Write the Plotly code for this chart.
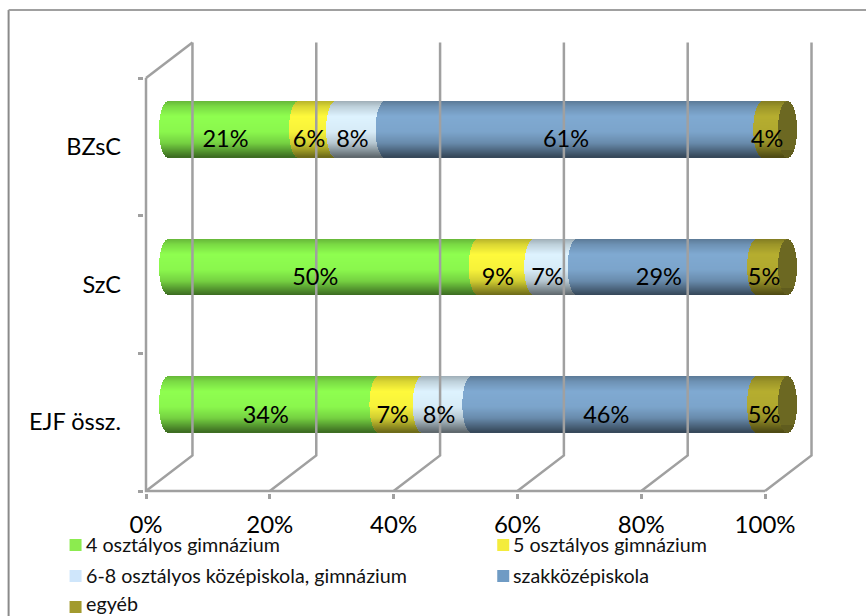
import numpy as np
import plotly.graph_objects as go

W, H = 866, 616
categories = ["EJF össz.", "SzC", "BZsC"]
series_names = ["4 osztályos gimnázium", "5 osztályos gimnázium",
                "6-8 osztályos középiskola, gimnázium", "szakközépiskola", "egyéb"]
gimn4 = [34, 50, 21]
gimn5 = [7, 9, 6]
koz68 = [8, 7, 8]
szakk = [46, 29, 61]
egyeb = [5, 5, 4]
series_values = [gimn4, gimn5, koz68, szakk, egyeb]
series_rgb = [(143, 255, 80), (255, 250, 60), (222, 243, 255), (128, 170, 210), (182, 174, 48)]
legend_rgb = ["#8CEB4F", "#F4EC3C", "#CFE6FB", "#6F9BC4", "#A29A2E"]
x_ticks = [0, 20, 40, 60, 80, 100]
x_ticktext = ["0%", "20%", "40%", "60%", "80%", "100%"]

# front-plane pixels
L, R, T, B = 145.5, 765.0, 78.0, 491.0
ppx = (R - L) / 100.0      # pixels per percent
ppy = (B - T) / 3.0        # pixels per category
# plot-area pixels (bigger than the front plane so the 3-D walls are not clipped)
PL, PR, PT, PB = L - 2, 830.0, 38.0, B + 2
x_range = [(PL - L) / ppx, (PR - L) / ppx]
y_range = [-0.5 - (PB - B) / ppy, -0.5 + (B - PT) / ppy]

WALL_DX, WALL_DY = 46.5 / ppx, 35.5 / ppy
BAR_DX, BAR_DY = 22.5 / ppx, 17.5 / ppy
BAND_PX = 56
RX = 9.5 / ppx
LBL_DX, LBL_DY = -8.0 / ppx, -12.0 / ppy
FONT = "Lato, Carlito, Calibri, sans-serif"
GRID = "#A0A0A0"


def px(v):
    return (v - PL) / (PR - PL)


def py(v):
    return (PB - v) / (PB - PT)


def shade(t):
    """Cylinder lighting; t runs from -1 (top edge) to 1 (bottom edge)."""
    return float(np.interp(t, [-1, -0.8, -0.45, 0.1, 0.5, 0.8, 1],
                           [0.72, 0.86, 1.0, 0.97, 0.82, 0.58, 0.42]))


def rgb(c, f):
    return "rgb(%d,%d,%d)" % tuple(int(min(255, v * f)) for v in c)


fig = go.Figure()

# axis lines, back-wall grid, floor diagonals
gx, gy = [0, 0, 100, None], [2.5, -0.5, -0.5, None]
for v in x_ticks:
    gx += [v, v + WALL_DX, v + WALL_DX, None]
    gy += [-0.5, -0.5 + WALL_DY, 2.5 + WALL_DY, None]
gx += [0, WALL_DX, None]
gy += [2.5, 2.5 + WALL_DY, None]
fig.add_trace(go.Scatter(x=gx, y=gy, mode="lines", line=dict(color=GRID, width=2.5),
                         showlegend=False, hoverinfo="skip"))

ts = (np.arange(BAND_PX) + 0.5) / BAND_PX * 2 - 1
band_h = 1.0 / ppy
arc = np.sqrt(1 - ts ** 2) * RX
band_y = ts * BAND_PX / 2 / ppy       # positive t = lower on screen

cum = np.zeros(3)
for name, vals, col in zip(series_names, series_values, series_rgb):
    ys, bases, lens, colors = [], [], [], []
    for i in range(3):
        for t, a, dy in zip(ts, arc, band_y):
            ys.append(i + BAR_DY - dy)
            bases.append(cum[i] + BAR_DX - a)
            lens.append(vals[i])
            colors.append(rgb(col, shade(t)))
    fig.add_trace(go.Bar(x=lens, y=ys, base=bases, orientation="h", width=band_h,
                         marker=dict(color=colors, line_width=0), name=name,
                         showlegend=False, hoverinfo="skip"))
    cum = cum + np.array(vals, dtype=float)

# dark end cap of every cylinder
ys, bases, lens, colors = [], [], [], []
for i in range(3):
    for t, a, dy in zip(ts, arc, band_y):
        ys.append(i + BAR_DY - dy)
        bases.append(cum[i] + BAR_DX - a)
        lens.append(2 * a)
        colors.append(rgb((120, 116, 38), 0.9 if t < 0.75 else 0.8))
fig.add_trace(go.Bar(x=lens, y=ys, base=bases, orientation="h", width=band_h,
                     marker=dict(color=colors, line_width=0), showlegend=False, hoverinfo="skip"))

# value labels
cum = np.zeros(3)
for vals in series_values:
    fig.add_trace(go.Scatter(
        x=[cum[i] + vals[i] / 2 + BAR_DX + LBL_DX for i in range(3)],
        y=[i + BAR_DY + LBL_DY for i in range(3)],
        text=["%d%%" % v for v in vals], mode="text", textposition="middle center",
        textfont=dict(family=FONT, size=23.5, color="black"),
        showlegend=False, hoverinfo="skip", cliponaxis=False))
    cum = cum + np.array(vals, dtype=float)

# hand-placed legend (two columns, three rows): swatch centre, text centre
legend_pos = [(69, 545, 544), (497, 545, 544), (69, 576, 575), (497, 576, 575), (69, 607, 603.5)]
shapes, annotations = [], []
for (lx, ly, ty), name, c in zip(legend_pos, series_names, legend_rgb):
    shapes.append(dict(type="rect", xref="paper", yref="paper",
                       x0=px(lx), x1=px(lx + 12), y0=py(ly + 6), y1=py(ly - 6),
                       fillcolor=c, line_width=0, layer="above"))
    annotations.append(dict(xref="paper", yref="paper", x=px(lx + 14), y=py(ty),
                            xanchor="left", yanchor="middle", text=name, showarrow=False,
                            font=dict(family=FONT, size=19.7, color="#111111")))

# outer chart frame: only the left and top edges are in view
shapes.append(dict(type="line", xref="paper", yref="paper", x0=px(8), x1=px(8),
                   y0=py(620), y1=py(10), line=dict(color="#8A8A8A", width=2), layer="below"))
shapes.append(dict(type="line", xref="paper", yref="paper", x0=px(8), x1=px(870),
                   y0=py(10), y1=py(10), line=dict(color="#A0A0A0", width=2), layer="below"))

fig.update_layout(
    width=W, height=H, autosize=False, barmode="overlay", bargap=0,
    paper_bgcolor="white", plot_bgcolor="white", showlegend=False,
    margin=dict(l=PL, r=W - PR, t=PT, b=H - PB),
    shapes=shapes, annotations=annotations,
    xaxis=dict(range=x_range, tickvals=x_ticks, ticktext=x_ticktext, showgrid=False,
               zeroline=False, showline=False,
               ticks="outside", ticklen=5, tickwidth=2.5, tickcolor=GRID,
               ticklabelstandoff=5, tickfont=dict(family=FONT, size=24, color="black")),
    yaxis=dict(range=y_range, tickvals=[0, 1, 2], ticktext=categories, showgrid=False,
               zeroline=False, showline=False,
               ticks="", ticklabelstandoff=22,
               minor=dict(tickmode="array", tickvals=[-0.5, 0.5, 1.5, 2.5], ticks="outside",
                          ticklen=5, tickwidth=2.5, tickcolor=GRID, showgrid=False),
               tickfont=dict(family=FONT, size=23.5, color="black")),
)
fig.write_html("out.html", config=dict(displayModeBar=False),
               post_script="document.body.style.margin='0';document.body.style.overflow='hidden';")
